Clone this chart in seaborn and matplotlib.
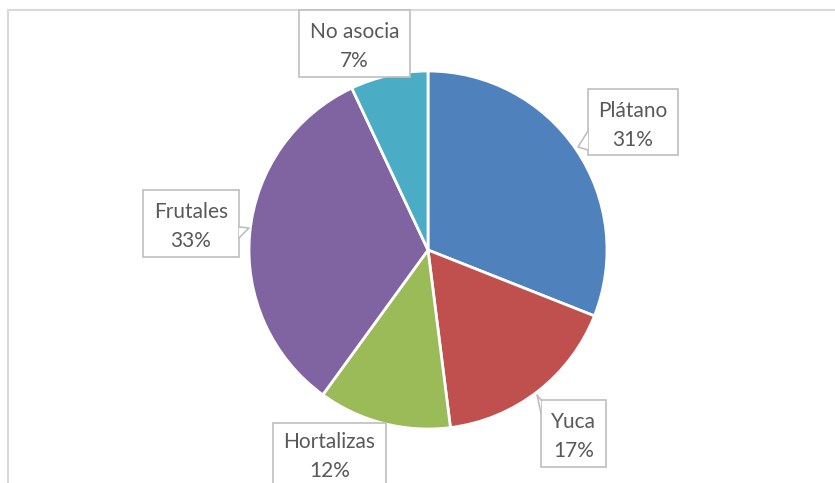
import matplotlib
matplotlib.use("Agg")
import matplotlib.pyplot as plt
import seaborn as sns
from matplotlib.patches import Rectangle, Polygon
from matplotlib.lines import Line2D

sns.set_theme(style="white")
plt.rcParams["font.family"] = ["Lato", "DejaVu Sans"]

# Data
categories = ["Plátano", "Yuca", "Hortalizas", "Frutales", "No asocia"]
shares = [31, 17, 12, 33, 7]
colors = ["#4F81BD", "#C0504D", "#9BBB59", "#8064A2", "#4BACC6"]

W, H = 835, 483
CX, CY, R = 428, 250, 179  # pie centre and radius in pixels

fig = plt.figure(figsize=(W / 100, H / 100), dpi=100)
ax = fig.add_axes([0, 0, 1, 1])
ax.set_xlim(-CX / R, (W - CX) / R)
ax.set_ylim(-(H - CY) / R, CY / R)
ax.set_aspect("equal")
ax.axis("off")


def P(x, y):
    """pixel position -> data coordinates"""
    return ((x - CX) / R, (CY - y) / R)


# chart frame
for xs, ys in [([8, 8], [10, 490]), ([8, 840], [10, 10])]:
    pts = [P(x, y) for x, y in zip(xs, ys)]
    ax.add_line(Line2D([p[0] for p in pts], [p[1] for p in pts],
                       color="#D9D9D9", lw=1.5, zorder=1))

ax.pie(shares, colors=colors, startangle=90, counterclock=False,
       radius=1, center=(0, 0),
       wedgeprops=dict(edgecolor="white", linewidth=2), frame=False)
ax.set_xlim(-CX / R, (W - CX) / R)
ax.set_ylim(-(H - CY) / R, CY / R)

# callout boxes: (left, top, right, bottom) in pixels, optional pointer
boxes = {
    "Plátano": ((588, 89, 678, 155), [(588, 131), (578, 147), (588, 150)]),
    "Yuca": ((541, 400, 606, 467), [(541, 400), (537, 395), (541, 413)]),
    "Hortalizas": ((273, 423, 386, 492), None),
    "Frutales": ((143, 190, 239, 257), [(239, 227), (249, 228), (239, 238)]),
    "No asocia": ((299, 10, 410, 77), None),
}

for cat, val in zip(categories, shares):
    (l, t, r, b), ptr = boxes[cat]
    x0, y0 = P(l, b)
    x1, y1 = P(r, t)
    ax.add_patch(Rectangle((x0, y0), x1 - x0, y1 - y0, facecolor="white",
                           edgecolor="#BFBFBF", lw=1.2, zorder=5))
    if ptr:
        pts = [P(*p) for p in ptr]
        ax.add_patch(Polygon(pts, closed=True, facecolor="white",
                             edgecolor="none", zorder=6))
        ax.add_line(Line2D([pts[0][0], pts[1][0], pts[2][0]],
                           [pts[0][1], pts[1][1], pts[2][1]],
                           color="#BFBFBF", lw=1.2, zorder=7))
    cx = (l + r) / 2
    ty = t + 22 if cat != "Hortalizas" else 442
    ax.text(*P(cx, ty), cat, ha="center", va="center", fontsize=15,
            color="#595959", zorder=8)
    ax.text(*P(cx, ty + 29), f"{val}%", ha="center", va="center",
            fontsize=15, color="#595959", zorder=8)

fig.savefig("out.png", dpi=100)
